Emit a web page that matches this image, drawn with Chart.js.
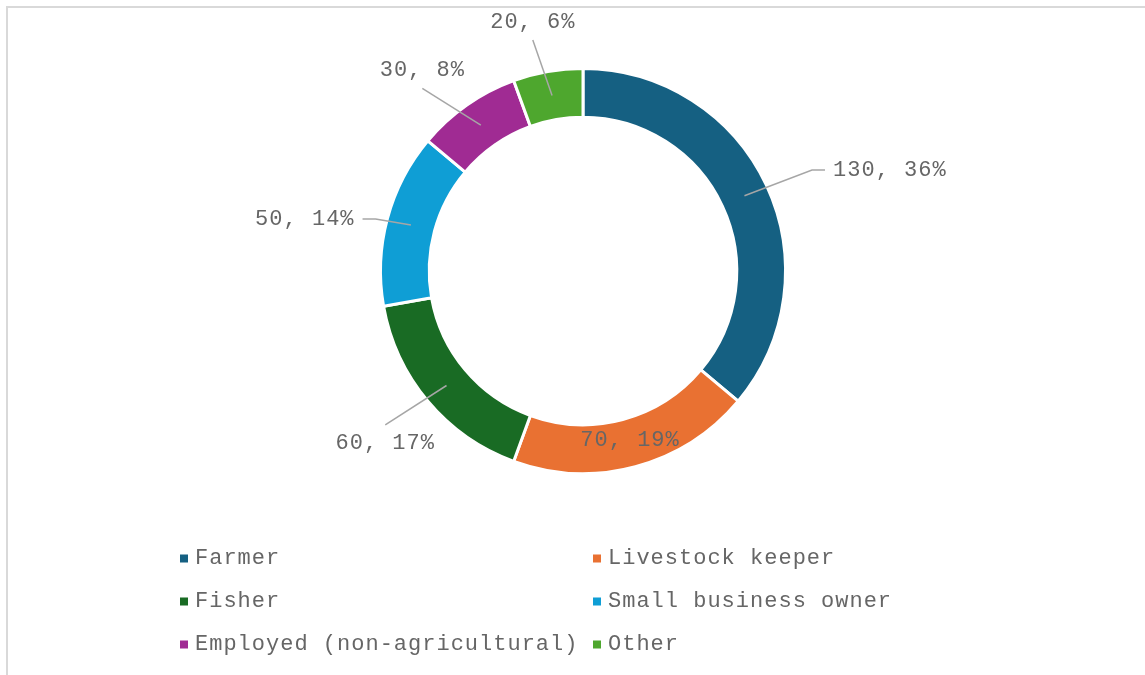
<!DOCTYPE html>
<html>
<head>
<meta charset="utf-8">
<title>Occupation</title>
<script src="https://cdn.jsdelivr.net/npm/chart.js@4.4.1/dist/chart.umd.min.js"></script>
<style>
  html, body { margin: 0; padding: 0; background: #fff; }
  canvas { display: block; }
</style>
</head>
<body>
<canvas id="occChart" width="1145" height="675"></canvas>
<script>
/* ---------- DATA ---------- */
const categories = [
  "Farmer",
  "Livestock keeper",
  "Fisher",
  "Small business owner",
  "Employed (non-agricultural)",
  "Other"
];
const counts = [130, 70, 60, 50, 30, 20];
const sliceColors = ["#156082", "#E97132", "#196B24", "#0F9ED5", "#A02B93", "#4EA72E"];

const FONT = '22px "Liberation Mono", "Courier New", monospace';
const TEXT_GREY = "#666666";

/* ---------- FRAME ---------- */
const frame = {
  id: "frame",
  beforeDraw(chart) {
    const ctx = chart.ctx;
    ctx.save();
    ctx.strokeStyle = "#d9d9d9";
    ctx.lineWidth = 2;
    ctx.strokeRect(7, 7, 1400, 1000);
    ctx.restore();
  }
};

/* ---------- VALUE LABELS + LEADERS ---------- */
const sliceLabels = {
  id: "sliceLabels",
  afterDatasetsDraw(chart, args, opts) {
    const ctx = chart.ctx;
    const meta = chart.getDatasetMeta(0);
    const values = chart.data.datasets[0].data;
    const total = values.reduce((a, b) => a + b, 0);

    ctx.save();
    ctx.font = opts.font;
    if ("letterSpacing" in ctx) ctx.letterSpacing = opts.spacing;
    ctx.textBaseline = "middle";
    ctx.textAlign = "center";

    meta.data.forEach((arc, i) => {
      const p = arc.getProps(["x", "y", "startAngle", "endAngle", "innerRadius", "outerRadius"], true);
      const mid = (p.startAngle + p.endAngle) / 2;
      const spot = opts.spots[i];
      const a = mid + spot.shift * Math.PI / 180;
      const lx = p.x + spot.dist * Math.cos(a);
      const ly = p.y + spot.dist * Math.sin(a);
      const text = values[i] + ", " + Math.round(values[i] / total * 100) + "%";
      const w = ctx.measureText(text).width;

      if (spot.dist > p.outerRadius) {
        const ringR = (p.innerRadius + p.outerRadius) / 2;
        const sx = p.x + ringR * Math.cos(mid);
        const sy = p.y + ringR * Math.sin(mid);
        const halfW = w / 2 + 8;
        const hgap = Math.max(0, Math.abs(sx - lx) - halfW);
        const vgap = Math.max(0, Math.abs(sy - ly) - 12);

        ctx.beginPath();
        ctx.moveTo(sx, sy);
        if (vgap > hgap) {
          ctx.lineTo(lx, ly + Math.sign(sy - ly) * opts.vAttach);
        } else {
          const side = Math.sign(sx - lx);
          const ex = lx + side * halfW;
          ctx.lineTo(ex + side * opts.stub, ly);
          ctx.lineTo(ex, ly);
        }
        ctx.strokeStyle = opts.leaderColor;
        ctx.lineWidth = 1.5;
        ctx.stroke();
      }

      ctx.fillStyle = opts.color;
      ctx.fillText(text, lx, ly);
    });
    ctx.restore();
  }
};

/* ---------- TWO-COLUMN LEGEND ---------- */
const gridLegend = {
  id: "gridLegend",
  afterDraw(chart, args, opts) {
    const ctx = chart.ctx;
    const colors = chart.data.datasets[0].backgroundColor;
    ctx.save();
    ctx.font = opts.font;
    if ("letterSpacing" in ctx) ctx.letterSpacing = opts.spacing;
    ctx.textBaseline = "middle";
    ctx.textAlign = "left";
    chart.data.labels.forEach((lab, i) => {
      const x = opts.left + (i % 2) * opts.colWidth;
      const y = opts.top + Math.floor(i / 2) * opts.rowHeight;
      ctx.fillStyle = colors[i];
      ctx.fillRect(x, y - 4, 8, 8);
      ctx.fillStyle = opts.color;
      ctx.fillText(lab, x + 15, y);
    });
    ctx.restore();
  }
};

/* ---------- CHART ---------- */
const ctx = document.getElementById("occChart").getContext("2d");
new Chart(ctx, {
  type: "doughnut",
  data: {
    labels: categories,
    datasets: [{
      data: counts,
      backgroundColor: sliceColors,
      borderColor: "#ffffff",
      borderWidth: 3,
      hoverOffset: 0
    }]
  },
  options: {
    responsive: false,
    devicePixelRatio: 1,
    animation: false,
    radius: 202.5,
    cutout: 151.5,
    layout: { padding: { top: 70, bottom: 203, left: 21, right: 0 } },
    plugins: {
      legend: { display: false },
      tooltip: { enabled: false },
      sliceLabels: {
        font: FONT,
        spacing: "1px",
        color: TEXT_GREY,
        leaderColor: "#a6a6a6",
        stub: 13,
        vAttach: 18,
        spots: [
          { dist: 323, shift: 6.8 },
          { dist: 176, shift: -0.5 },
          { dist: 262, shift: -1 },
          { dist: 283, shift: -4.4 },
          { dist: 257, shift: -3.7 },
          { dist: 254, shift: -1.4 }
        ]
      },
      gridLegend: {
        font: FONT,
        spacing: "1px",
        color: TEXT_GREY,
        left: 180,
        top: 558.5,
        colWidth: 413,
        rowHeight: 43
      }
    }
  },
  plugins: [frame, sliceLabels, gridLegend]
});
</script>
</body>
</html>
